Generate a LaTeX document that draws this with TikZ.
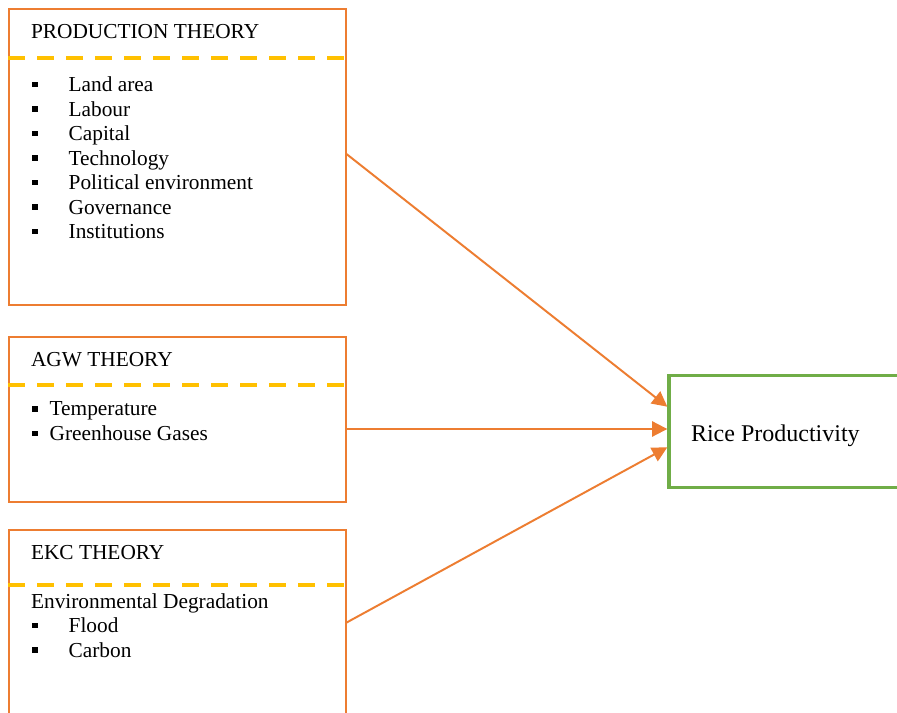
\documentclass[tikz,border=0pt]{standalone}
\usepackage{fontspec}
\setmainfont{Liberation Serif}
\usetikzlibrary{fit,arrows.meta}

\definecolor{boxorange}{HTML}{ED7D31}
\definecolor{dashyellow}{HTML}{FFC000}
\definecolor{ricegreen}{HTML}{70AD47}

\tikzset{
  theorybox/.style={draw=boxorange, line width=1.1pt, inner sep=0pt},
  divider/.style={draw=dashyellow, line width=2.3pt, dash pattern=on 9.5pt off 6.8pt},
  outcome/.style={draw=ricegreen, line width=1.9pt, inner sep=0pt},
  itemtext/.style={anchor=base west, inner sep=0pt, font=\fontsize{12}{14}\selectfont},
  link/.style={draw=boxorange, line width=1.1pt}
}

\begin{document}
\begin{tikzpicture}[x=0.5625pt, y=-0.5625pt, >={Triangle[length=8.5pt,width=8.5pt]}]
    \clip (0,0) rectangle (897,713);
    \fill[white] (0,0) rectangle (897,713);

    % caixas das teorias
    \node[theorybox, fit={(9.3,9.3) (345.7,305)}] (prod) {};
    \node[theorybox, fit={(9.3,337.3) (345.7,502.3)}] (agw) {};
    \node[theorybox, fit={(9.3,530) (345.7,715)}] (ekc) {};

    % linhas tracejadas
    \draw[divider] ([shift={(0,50)}]prod.north west) -- ([shift={(0,50)}]prod.north east);
    \draw[divider] ([shift={(0,48.7)}]agw.north west) -- ([shift={(0,48.7)}]agw.north east);
    \draw[divider] ([shift={(0,55.7)}]ekc.north west) -- ([shift={(0,55.7)}]ekc.north east);

    % titulos
    \node[itemtext] (prodtitle) at (30.7,39) {PRODUCTION THEORY};
    \node[itemtext] (agwtitle) at (30.7,366.7) {AGW THEORY};
    \node[itemtext] (ekctitle) at (30.7,560) {EKC THEORY};

    % itens da teoria da producao
    \foreach \t [count=\i] in {Land area, Labour, Capital, Technology, Political environment, Governance, Institutions} {
        \pgfmathsetmacro\yb{67.2+24.5*\i}
        \fill (32.3,\yb-10) rectangle (38.3,\yb-4.4);
        \node[itemtext] (prod\i) at (68.3,\yb) {\t};
    }

    % itens AGW
    \foreach \t [count=\i] in {Temperature, Greenhouse Gases} {
        \pgfmathsetmacro\yb{391.3+24.7*\i}
        \fill (32.3,\yb-10) rectangle (38.3,\yb-4.4);
        \node[itemtext] (agw\i) at (49.3,\yb) {\t};
    }

    % itens EKC
    \node[itemtext] (ekcdeg) at (30.7,608.3) {Environmental Degradation};
    \foreach \t [count=\i] in {Flood, Carbon} {
        \pgfmathsetmacro\yb{608.3+24.5*\i}
        \fill (32.3,\yb-10) rectangle (38.3,\yb-4.4);
        \node[itemtext] (ekc\i) at (68.3,\yb) {\t};
    }

    % produtividade do arroz
    \node[outcome, fit={(669,375.7) (930,487.7)}] (rice) {};
    \node[itemtext, font=\fontsize{13.5}{16}\selectfont] (ricetext) at (690.7,441.7) {Rice Productivity};

    % setas
    \draw[link, ->] ([shift={(0,-3)}]prod.east) -- ([shift={(0,-25)}]rice.west);
    \draw[link, ->] ([shift={(0,9.2)}]agw.east) -- ([shift={(0,-2.7)}]rice.west);
    \draw[link, ->] (ekc.east) -- ([shift={(0,15.6)}]rice.west);

\end{tikzpicture}
\end{document}
